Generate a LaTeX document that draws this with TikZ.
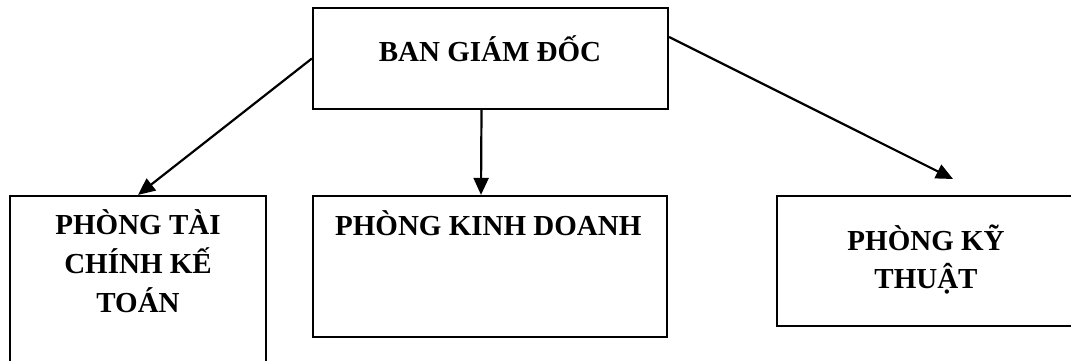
\documentclass[tikz,border=0pt]{standalone}
\usepackage{fontspec}
\setmainfont{Liberation Serif}
\usetikzlibrary{arrows.meta}
\begin{document}
\begin{tikzpicture}[x=1pt,y=-1pt,
  box/.style={draw, line width=2.2pt, inner sep=0pt, rectangle},
  txt/.style={anchor=base, inner sep=0pt, font=\fontsize{29}{38}\selectfont\bfseries},
  link/.style={line width=2.2pt, -{Triangle[length=17pt,width=15pt]}}]
\useasboundingbox (0,0) rectangle (1071,361);
\clip (0,0) rectangle (1071,361);
% boxes
\node[box, minimum width=355pt, minimum height=101pt] (bgd) at (490.5,58.5) {};
\node[box, minimum width=256pt, minimum height=204pt] (tckt) at (138,298) {};
\node[box, minimum width=354pt, minimum height=141pt] (kd) at (490,266.5) {};
\node[box, minimum width=313pt, minimum height=130pt] (kt) at (933.5,261) {};
% texts
\node[txt] (t0) at (490,62) {BAN GIÁM ĐỐC};
\node[txt] (t1) at (138,234) {PHÒNG TÀI};
\node[txt] (t2) at (138,273) {CHÍNH KẾ};
\node[txt] (t3) at (138,312) {TOÁN};
\node[txt, anchor=base west] (t4) at (335,235) {PHÒNG KINH DOANH};
\node[txt] (t5) at (926,250) {PHÒNG KỸ};
\node[txt] (t6) at (926,288) {THUẬT};
% connectors
\coordinate (ktip) at (953,179);
\draw[link] (bgd.west) -- (tckt.north);
\draw[link] ([xshift=-9pt]bgd.south) -- ([xshift=-9pt]kd.north);
\draw[link] ([yshift=21.5pt]bgd.east) -- (ktip);
\end{tikzpicture}
\end{document}
